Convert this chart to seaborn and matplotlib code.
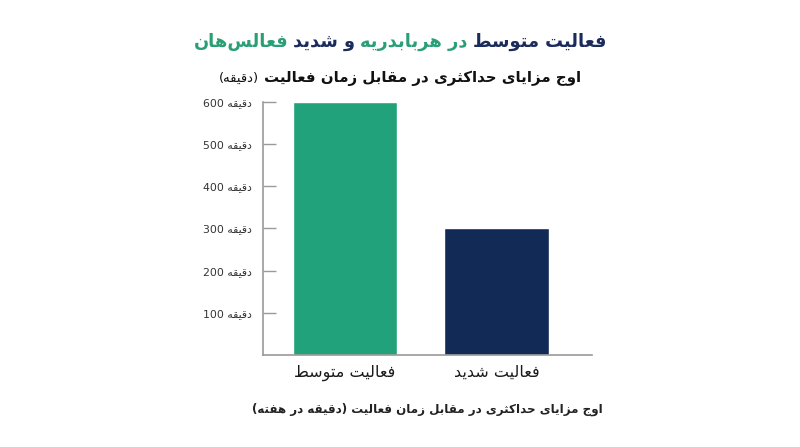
import re
import matplotlib
matplotlib.use('Agg')
import matplotlib.pyplot as plt
import seaborn as sns

# ----------------------
# Data
categories = ['فعالیت متوسط', 'فعالیت شدید']
minutes = [600, 300]
yticks = [100, 200, 300, 400, 500, 600]
tick_unit = 'دقیقه'
bar_colors = ['#21a27b', '#112a56']

title_parts = [('فعالیت متوسط', '#1b2b5c'), ('در هربابدریه', '#2a9f76'),
               ('و شدید', '#1b2b5c'), ('فعالس\u200cهان', '#2a9f76')]
subtitle = 'اوج مزایای حداکثری در مقابل زمان فعالیت'
subtitle_unit = '(دقیقه)'
xlabel = 'اوج مزایای حداکثری در مقابل زمان فعالیت (دقیقه در هفته)'

# ----------------------
# Tiny Persian shaper (matplotlib has no RTL / joining support)
# letter: (isolated, final, initial, medial)
FORMS = {
    'ا': ('\uFE8D', '\uFE8E', None, None),
    'ب': ('\uFE8F', '\uFE90', '\uFE91', '\uFE92'),
    'ت': ('\uFE95', '\uFE96', '\uFE97', '\uFE98'),
    'ث': ('\uFE99', '\uFE9A', '\uFE9B', '\uFE9C'),
    'ج': ('\uFE9D', '\uFE9E', '\uFE9F', '\uFEA0'),
    'ح': ('\uFEA1', '\uFEA2', '\uFEA3', '\uFEA4'),
    'د': ('\uFEA9', '\uFEAA', None, None),
    'ر': ('\uFEAD', '\uFEAE', None, None),
    'ز': ('\uFEAF', '\uFEB0', None, None),
    'س': ('\uFEB1', '\uFEB2', '\uFEB3', '\uFEB4'),
    'ش': ('\uFEB5', '\uFEB6', '\uFEB7', '\uFEB8'),
    'ط': ('\uFEC1', '\uFEC2', '\uFEC3', '\uFEC4'),
    'ع': ('\uFEC9', '\uFECA', '\uFECB', '\uFECC'),
    'ف': ('\uFED1', '\uFED2', '\uFED3', '\uFED4'),
    'ق': ('\uFED5', '\uFED6', '\uFED7', '\uFED8'),
    'ل': ('\uFEDD', '\uFEDE', '\uFEDF', '\uFEE0'),
    'م': ('\uFEE1', '\uFEE2', '\uFEE3', '\uFEE4'),
    'ن': ('\uFEE5', '\uFEE6', '\uFEE7', '\uFEE8'),
    'ه': ('\uFEE9', '\uFEEA', '\uFEEB', '\uFEEC'),
    'و': ('\uFEED', '\uFEEE', None, None),
    'ی': ('\uFBFC', '\uFBFD', '\uFBFE', '\uFBFF'),
    'ک': ('\uFB8E', '\uFB8F', '\uFB90', '\uFB91'),
}


def rtl(text):
    out = []
    for i, ch in enumerate(text):
        if ch not in FORMS:
            out.append(ch)
            continue
        prev = text[i - 1] if i > 0 else ''
        nxt = text[i + 1] if i + 1 < len(text) else ''
        iso, fin, ini, med = FORMS[ch]
        jp = prev in FORMS and FORMS[prev][2] is not None
        jn = ini is not None and nxt in FORMS
        if jp and jn:
            out.append(med)
        elif jp:
            out.append(fin)
        elif jn:
            out.append(ini)
        else:
            out.append(iso)
    s = ''.join(out).replace('\u200c', '')[::-1]
    s = re.sub(r'[0-9]+', lambda m: m.group(0)[::-1], s)
    return s.translate(str.maketrans('()', ')('))


# ----------------------
sns.set_style('white')
plt.rcParams['font.family'] = ['DejaVu Sans']

fig = plt.figure(figsize=(8, 4.47), dpi=100)
ax = fig.add_axes([0.329, 0.206, 0.411, 0.566])

sns.barplot(x=categories, y=minutes, hue=categories, palette=bar_colors,
            legend=False, width=0.69, saturation=1, ax=ax)

ax.set_xlim(-0.54, 1.63)
ax.set_ylim(0, 600)
ax.set_yticks(yticks)
ax.set_yticklabels([str(v) + ' ' + rtl(tick_unit) for v in yticks],
                   fontsize=7.8, color='#333333')
ax.set_xticks([0, 1])
ax.set_xticklabels([rtl(c) for c in categories], fontsize=11.5,
                   color='#1a1a1a')
ax.tick_params(axis='y', left=True, direction='in', length=9, width=1,
               color='#9a9a9a', pad=8)
ax.tick_params(axis='x', bottom=False, length=0, pad=7)
for side in ['top', 'right']:
    ax.spines[side].set_visible(False)
for side in ['left', 'bottom']:
    ax.spines[side].set_color('#9a9a9a')
    ax.spines[side].set_linewidth(1.2)
ax.set_xlabel(rtl(xlabel), fontsize=8.6, fontweight='bold', color='#222222',
              labelpad=16)
ax.set_ylabel('')

# ----------------------
# multi-coloured title, placed segment by segment (visual order is right to left)
fig.canvas.draw()
renderer = fig.canvas.get_renderer()
W, H = fig.bbox.width, fig.bbox.height


def place_row(parts, y_px, gap=6):
    texts = []
    for txt, color, size, weight in parts:
        t = fig.text(0, 1 - y_px / H, txt, color=color, fontsize=size,
                     fontweight=weight, va='center', ha='left')
        texts.append(t)
    widths = [t.get_window_extent(renderer).width for t in texts]
    total = sum(widths) + gap * (len(texts) - 1)
    x = W / 2 - total / 2
    for t, w in zip(texts, widths):
        t.set_x(x / W)
        x += w + gap


title_row = [(rtl(txt), col, 12.8, 'bold') for txt, col in title_parts][::-1]
place_row(title_row, 42, gap=5)
place_row([(rtl(subtitle_unit), '#111111', 9.5, 'normal'),
           (rtl(subtitle), '#111111', 10.8, 'bold')], 78, gap=5)

fig.savefig('out.png', dpi=100)
